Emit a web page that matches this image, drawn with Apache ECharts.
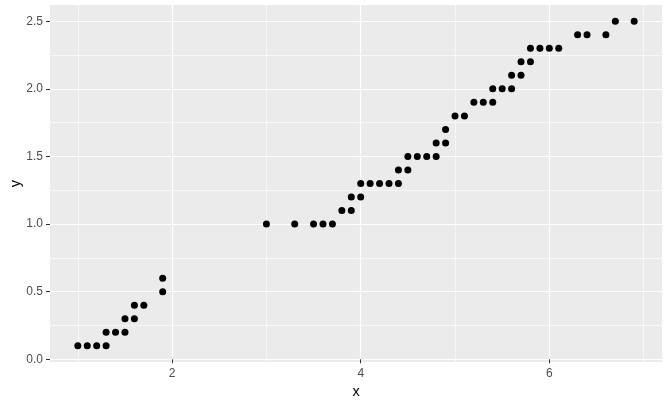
<!DOCTYPE html>
<html>
<head>
<meta charset="utf-8">
<script src="https://cdn.jsdelivr.net/npm/echarts@6/dist/echarts.min.js"></script>
<style>
html, body { margin: 0; padding: 0; background: #ffffff; }
#chart { width: 667px; height: 405px; }
</style>
</head>
<body>
<div id="chart"></div>
<script>
// distinct points
var xs = [1.0, 1.1, 1.2, 1.3, 1.3, 1.4, 1.5, 1.5, 1.6, 1.6, 1.7, 1.9, 1.9,
          3.0, 3.3, 3.5, 3.6, 3.7, 3.8, 3.9, 3.9, 4.0, 4.0, 4.1, 4.2, 4.3, 4.4,
          4.4, 4.5, 4.5, 4.6, 4.7, 4.8, 4.8, 4.9, 4.9, 5.0, 5.1, 5.2, 5.3, 5.4,
          5.4, 5.5, 5.6, 5.6, 5.7, 5.7, 5.8, 5.8, 5.9, 6.0, 6.1, 6.3, 6.4, 6.6,
          6.7, 6.9];
var ys = [0.1, 0.1, 0.1, 0.1, 0.2, 0.2, 0.2, 0.3, 0.3, 0.4, 0.4, 0.5, 0.6,
          1.0, 1.0, 1.0, 1.0, 1.0, 1.1, 1.1, 1.2, 1.2, 1.3, 1.3, 1.3, 1.3, 1.3,
          1.4, 1.4, 1.5, 1.5, 1.5, 1.5, 1.6, 1.6, 1.7, 1.8, 1.8, 1.9, 1.9, 1.9,
          2.0, 2.0, 2.0, 2.1, 2.1, 2.2, 2.2, 2.3, 2.3, 2.3, 2.3, 2.4, 2.4, 2.4,
          2.5, 2.5];

var xTicks = [2, 4, 6];
var xMinor = [1, 3, 5, 7];
var yTicks = [0, 0.5, 1, 1.5, 2, 2.5];
var yMinor = [0.25, 0.75, 1.25, 1.75, 2.25];
var xRange = [0.705, 7.195];
var yRange = [-0.02, 2.62];

var pts = [];
for (var i = 0; i < xs.length; i++) {
    pts.push([xs[i], ys[i]]);
}

var labelFont = { color: '#4d4d4d', fontSize: 12, fontFamily: 'Liberation Sans' };

// hidden axis only for the thin minor grid lines
function minorAxis(type, range, vals) {
    return {
        type: 'value',
        min: range[0],
        max: range[1],
        position: type == 'x' ? 'bottom' : 'left',
        offset: 0,
        axisLine: { show: false },
        axisTick: { show: false, customValues: vals },
        axisLabel: { show: false, customValues: vals },
        splitLine: { show: true, customValues: vals, lineStyle: { color: '#ffffff', width: 0.6 } }
    };
}

var chart = echarts.init(document.getElementById('chart'));
chart.setOption({
    backgroundColor: '#ffffff',
    animation: false,
    grid: {
        left: 50, right: 5, top: 5, bottom: 43,
        containLabel: false,
        outerBoundsMode: 'none',
        show: true, backgroundColor: '#ebebeb', borderWidth: 0
    },
    xAxis: [minorAxis('x', xRange, xMinor), {
        type: 'value',
        min: xRange[0],
        max: xRange[1],
        position: 'bottom',
        offset: 0,
        name: 'x',
        nameLocation: 'middle',
        nameGap: 22,
        nameTextStyle: { color: '#000000', fontSize: 14.5, fontFamily: 'Liberation Sans' },
        axisLine: { show: false },
        axisTick: { show: true, length: 4, customValues: xTicks, lineStyle: { color: '#333333', width: 1 } },
        axisLabel: Object.assign({ margin: 6, customValues: xTicks }, labelFont),
        splitLine: { show: true, customValues: xTicks, lineStyle: { color: '#ffffff', width: 1.2 } }
    }],
    yAxis: [minorAxis('y', yRange, yMinor), {
        type: 'value',
        min: yRange[0],
        max: yRange[1],
        position: 'left',
        offset: 0,
        name: 'y',
        nameLocation: 'middle',
        nameGap: 27,
        nameMoveOverlap: false,
        nameRotate: 90,
        nameTextStyle: { color: '#000000', fontSize: 14.5, fontFamily: 'Liberation Sans' },
        axisLine: { show: false },
        axisTick: { show: true, length: 4, customValues: yTicks, lineStyle: { color: '#333333', width: 1 } },
        axisLabel: Object.assign({
            margin: 7,
            customValues: yTicks,
            formatter: function (v) { return v.toFixed(1); }
        }, labelFont),
        splitLine: { show: true, customValues: yTicks, lineStyle: { color: '#ffffff', width: 1.2 } }
    }],
    series: [{
        type: 'scatter',
        xAxisIndex: 1,
        yAxisIndex: 1,
        symbolSize: 7,
        itemStyle: { color: '#000000', opacity: 1 },
        data: pts
    }]
});
</script>
</body>
</html>
